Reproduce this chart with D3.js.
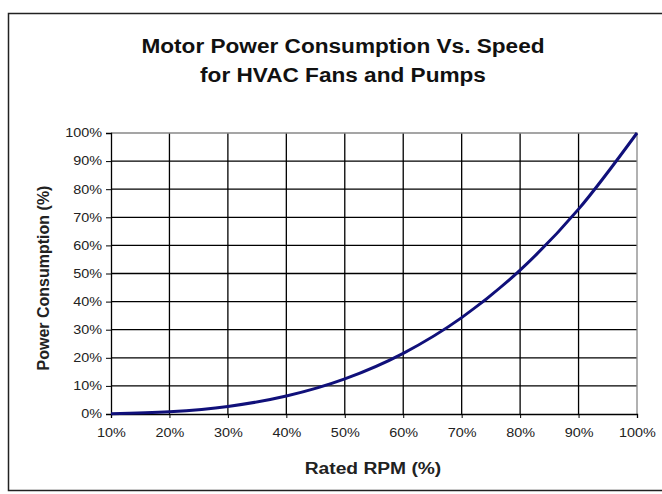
<!DOCTYPE html>
<html>
<head>
<meta charset="utf-8">
<script src="https://cdn.jsdelivr.net/npm/d3@7"></script>
<style>
  body { margin: 0; background: #fff; }
  text { font-family: "Liberation Sans", Arial, sans-serif; }
</style>
</head>
<body>
<div id="chart"></div>
<script>
// data
var rpm = [10, 20, 30, 40, 50, 60, 70, 80, 90, 100];
var power = [0.1, 0.8, 2.7, 6.4, 12.5, 21.6, 34.3, 51.2, 72.9, 100];
var yTicks = [0, 10, 20, 30, 40, 50, 60, 70, 80, 90, 100];
var titleLines = ["Motor Power Consumption Vs. Speed", "for HVAC Fans and Pumps"];

var W = 662, H = 494;
var margin = {top: 133, right: 25, bottom: 80, left: 111},
    width = W - margin.left - margin.right,
    height = H - margin.top - margin.bottom;

var root = d3.select("#chart").append("svg")
  .attr("width", W)
  .attr("height", H);

// the original picture is a bit stretched sideways, so widen the text
function widen(sel, k) {
  sel.each(function() {
    var len = this.getComputedTextLength();
    d3.select(this).attr("textLength", len * k).attr("lengthAdjust", "spacingAndGlyphs");
  });
}

// outer frame
root.append("rect")
  .attr("x", 8.5).attr("y", 13.5)
  .attr("width", 700).attr("height", 477)
  .attr("fill", "none")
  .attr("stroke", "#222")
  .attr("stroke-width", 1.5);

// title
root.selectAll(".title")
  .data(titleLines)
  .enter().append("text")
  .attr("class", "title")
  .attr("x", 343)
  .attr("y", function(d, i) { return 53 + i * 29; })
  .attr("text-anchor", "middle")
  .style("font-size", "20px")
  .style("font-weight", "bold")
  .style("fill", "#111")
  .text(function(d) { return d; })
  .call(widen, 1.13);

var svg = root.append("g")
  .attr("transform", "translate(" + margin.left + "," + margin.top + ")");

var x = d3.scaleLinear().domain([10, 100]).range([0, width]);
var y = d3.scaleLinear().domain([0, 100]).range([height, 0]);

// gridlines
svg.append("g")
  .selectAll("line")
  .data(yTicks.filter(function(d) { return d > 0 && d < 100; }))
  .enter().append("line")
  .attr("x1", 0).attr("x2", width)
  .attr("y1", function(d) { return y(d); })
  .attr("y2", function(d) { return y(d); })
  .attr("stroke", "#000").attr("stroke-width", 1.3);

svg.append("g")
  .selectAll("line")
  .data(rpm.filter(function(d) { return d > 10 && d < 100; }))
  .enter().append("line")
  .attr("y1", 0).attr("y2", height)
  .attr("x1", function(d) { return x(d); })
  .attr("x2", function(d) { return x(d); })
  .attr("stroke", "#000").attr("stroke-width", 1.3);

// top + right border of plot, grey
svg.append("path")
  .attr("d", "M0," + y(100) + "H" + x(100) + "V" + y(0))
  .attr("fill", "none")
  .attr("stroke", "#888")
  .attr("stroke-width", 1.3);

// Y axis
var yAxis = svg.append("g")
  .call(d3.axisLeft(y).tickValues(yTicks).tickSize(5).tickPadding(4)
    .tickFormat(function(d) { return d + "%"; }));
yAxis.select(".domain").attr("stroke", "#000").attr("stroke-width", 1.3);
yAxis.selectAll("text").style("font-size", "12px").style("fill", "#222").call(widen, 1.2);

// X axis
var xAxis = svg.append("g")
  .attr("transform", "translate(0," + height + ")")
  .call(d3.axisBottom(x).tickValues(rpm).tickSize(4).tickPadding(10)
    .tickFormat(function(d) { return d + "%"; }));
xAxis.select(".domain").attr("stroke", "#000").attr("stroke-width", 1.3);
xAxis.selectAll("text").style("font-size", "12px").style("fill", "#222").call(widen, 1.2);

// axis titles
root.append("text")
  .attr("x", 373)
  .attr("y", 474)
  .attr("text-anchor", "middle")
  .style("font-size", "16px")
  .style("font-weight", "bold")
  .style("fill", "#222")
  .text("Rated RPM (%)")
  .call(widen, 1.2);

root.append("text")
  .attr("transform", "translate(49,278)rotate(-90)")
  .attr("text-anchor", "middle")
  .style("font-size", "16px")
  .style("font-weight", "bold")
  .style("fill", "#222")
  .text("Power Consumption (%)");

// curve
var line = d3.line()
  .x(function(d, i) { return x(rpm[i]); })
  .y(function(d) { return y(d); })
  .curve(d3.curveMonotoneX);

svg.append("path")
  .datum(power)
  .attr("d", line)
  .attr("fill", "none")
  .attr("stroke", "#10107a")
  .attr("stroke-width", 3);
</script>
</body>
</html>
